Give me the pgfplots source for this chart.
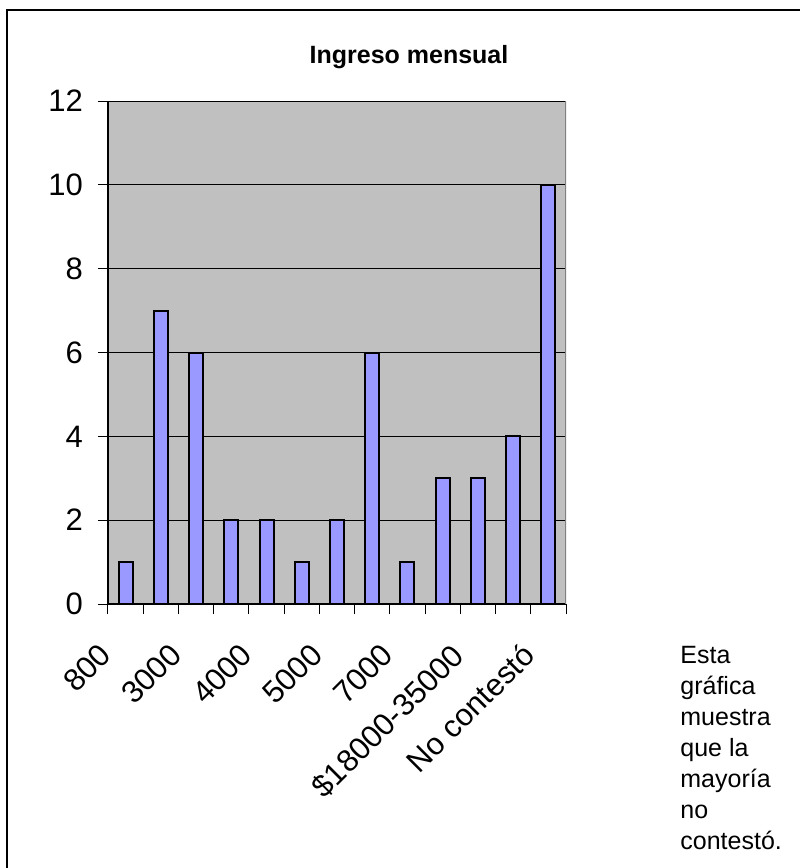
\documentclass[border=0pt]{standalone}
\usepackage{pgfplots}
\pgfplotsset{compat=1.18}
\usepackage{fontspec}
\setmainfont{Liberation Sans}

\definecolor{barfill}{HTML}{9999FF}
\definecolor{plotbg}{HTML}{C0C0C0}

\pgfplotstableread{
x y
0 1
1 7
2 6
3 2
4 2
5 1
6 2
7 6
8 1
9 3
10 3
11 4
12 10
}\ingreso

\begin{document}
\begin{tikzpicture}
\useasboundingbox (0,0) rectangle (400pt,-434pt);
\draw[line width=0.6pt] (3.5pt,-434pt) -- (3.5pt,-5pt) -- (400pt,-5pt);

\begin{axis}[
    at={(54pt,-50.5pt)}, anchor=north west,
    scale only axis, width=229pt, height=251.5pt,
    xmin=-0.5, xmax=12.5, ymin=0, ymax=12,
    ytick={0,2,...,12},
    xtick={-0.5,0.5,...,12.5},
    xticklabels={},
    extra x ticks={0,2,4,6,8,10,12},
    extra x tick labels={800,3000,4000,5000,7000,\$18000-35000,No contestó},
    extra x tick style={major tick length=0pt, grid=none,
        xticklabel style={font=\fontsize{15.5}{15.5}\selectfont, xshift=-14pt, yshift=-18.5pt, rotate=45, anchor=north east, inner sep=0pt}},
    axis lines*=left,
    tick align=outside,
    major tick length=5pt,
    ymajorgrids,
    grid style={black, line width=0.5pt},
    axis line style={black, line width=0.6pt},
    tick style={black, line width=0.5pt},
    axis background/.style={fill=plotbg},
    /pgf/number format/assume math mode=true,
    yticklabel style={font=\fontsize{15.5}{15.5}\selectfont, xshift=-4pt},
    ybar, bar width=7pt,
]
\addplot[fill=barfill, draw=black, line width=1pt] table[x=x, y=y] {\ingreso};
\draw[gray, line width=1pt] (rel axis cs:1,0) -- (rel axis cs:1,1);
\end{axis}

\node[font=\bfseries\fontsize{12.5}{14}\selectfont] at (204.5pt,-28.5pt) {Ingreso mensual};
\node[anchor=north west, inner sep=0pt, align=left, font=\fontsize{12.5}{15.5}\selectfont]
  at (340pt,-323pt) {Esta\\gráfica\\muestra\\que la\\mayoría\\no\\contestó.};
\end{tikzpicture}
\end{document}
